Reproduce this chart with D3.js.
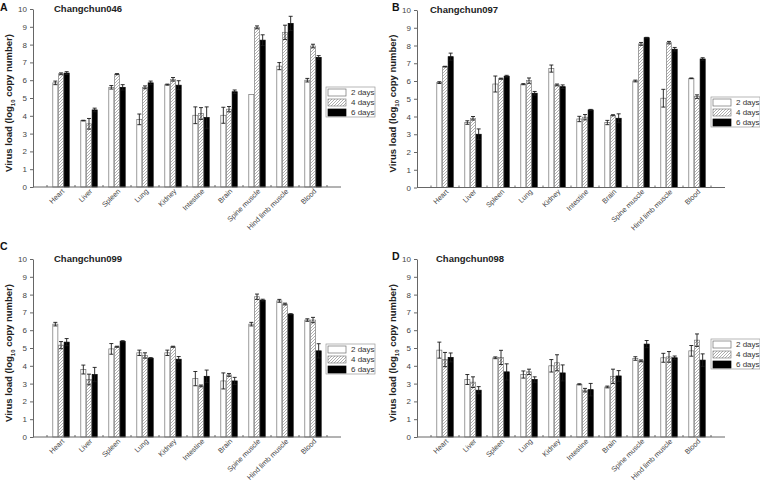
<!DOCTYPE html>
<html><head><meta charset="utf-8">
<script src="https://cdn.jsdelivr.net/npm/d3@7"></script>
<style>body{margin:0;background:#fff}svg{display:block}text{font-family:"Liberation Sans",Arial,sans-serif}</style>
</head><body>
<script>
const categories = ["Heart","Liver","Spleen","Lung","Kidney","Intestine","Brain","Spine muscle","Hind limb muscle","Blood"];
const seriesLabels = ["2 days","4 days","6 days"];
const yTickValues = [0,1,2,3,4,5,6,7,8,9,10];
const panelLetters = ["A","B","C","D"];
const strainNames = ["Changchun046","Changchun097","Changchun099","Changchun098"];

// Changchun046
const c046_2d = [5.85,3.73,5.6,3.8,5.75,4.03,4.03,5.2,6.79,6.0];
const c046_2d_err = [0.1,0.02,0.1,0.3,0.03,0.47,0.45,0,0.2,0.1];
const c046_4d = [6.36,3.55,6.34,5.6,6.05,4.13,4.37,8.97,8.69,7.92];
const c046_4d_err = [0.05,0.3,0.03,0.08,0.1,0.33,0.15,0.08,0.4,0.1];
const c046_6d = [6.4,4.33,5.6,5.85,5.72,3.9,5.35,8.25,9.19,7.28];
const c046_6d_err = [0.08,0.1,0.15,0.1,0.25,0.6,0.1,0.3,0.4,0.1];
// Changchun097
const c097_2d = [5.91,3.66,5.83,5.82,6.7,3.86,3.66,6.0,5.03,6.15];
const c097_2d_err = [0.05,0.1,0.45,0.03,0.2,0.15,0.12,0.05,0.5,0.02];
const c097_4d = [6.81,3.9,6.13,6.02,5.78,3.96,4.07,8.09,8.16,5.12];
const c097_4d_err = [0.02,0.1,0.03,0.15,0.05,0.15,0.03,0.08,0.07,0.1];
const c097_6d = [7.37,3.0,6.27,5.31,5.68,4.37,3.9,8.44,7.79,7.24];
const c097_6d_err = [0.2,0.3,0.05,0.1,0.1,0.03,0.25,0.02,0.1,0.07];
// Changchun099
const c099_2d = [6.34,3.79,4.95,4.73,4.73,3.28,3.15,6.34,7.65,6.57];
const c099_2d_err = [0.1,0.25,0.3,0.15,0.15,0.4,0.45,0.1,0.08,0.07];
const c099_4d = [5.16,3.23,5.07,4.58,5.07,2.87,3.49,7.88,7.47,6.57];
const c099_4d_err = [0.2,0.3,0.03,0.15,0.03,0.05,0.08,0.15,0.05,0.15];
const c099_6d = [5.33,3.51,5.38,4.43,4.37,3.41,3.15,7.69,6.9,4.84];
const c099_6d_err = [0.2,0.4,0.03,0.03,0.15,0.35,0.2,0.05,0.03,0.4];
// Changchun098
const c098_2d = [4.88,3.23,4.45,3.51,4.0,2.96,2.81,4.41,4.45,4.84];
const c098_2d_err = [0.45,0.28,0.05,0.2,0.35,0.03,0.05,0.1,0.25,0.3];
const c098_4d = [4.35,3.08,4.47,3.66,4.17,2.63,3.41,4.28,4.5,5.44];
const c098_4d_err = [0.4,0.3,0.4,0.15,0.45,0.1,0.4,0.05,0.3,0.35];
const c098_6d = [4.47,2.63,3.66,3.23,3.6,2.66,3.43,5.22,4.45,4.32];
const c098_6d_err = [0.25,0.2,0.45,0.15,0.45,0.35,0.3,0.2,0.1,0.35];

const panelMeans = [[c046_2d,c046_4d,c046_6d],[c097_2d,c097_4d,c097_6d],[c099_2d,c099_4d,c099_6d],[c098_2d,c098_4d,c098_6d]];
const panelErrs = [[c046_2d_err,c046_4d_err,c046_6d_err],[c097_2d_err,c097_4d_err,c097_6d_err],[c099_2d_err,c099_4d_err,c099_6d_err],[c098_2d_err,c098_4d_err,c098_6d_err]];

const layout = [
  {ax:33, y0:187, y10:9, titleX:54, letterX:0, letterY:11, legX:326, legY:87},
  {ax:417, y0:187.5, y10:10, titleX:430, letterX:392, letterY:11, legX:711, legY:97},
  {ax:33, y0:437, y10:259, titleX:54, letterX:0, letterY:250, legX:326, legY:344},
  {ax:417, y0:437, y10:259, titleX:436, letterX:392, letterY:260, legX:711, legY:339}
];

const fills = ["#ffffff","url(#hatch)","#000000"];
const strokes = ["#707070","#808080","#000000"];

const svg = d3.select("body").append("svg").attr("width",760).attr("height",483);
const pat = svg.append("defs").append("pattern").attr("id","hatch")
  .attr("patternUnits","userSpaceOnUse").attr("width",3).attr("height",3);
pat.append("rect").attr("width",3).attr("height",3).attr("fill","#fff");
pat.append("path").attr("d","M-1,1 L1,-1 M0,3 L3,0 M2,4 L4,2")
  .attr("stroke","#9a9a9a").attr("stroke-width",0.8);

layout.forEach((cfg,p)=>{
  const g = svg.append("g");
  const y = d3.scaleLinear().domain([0,10]).range([cfg.y0,cfg.y10]);
  const x = d3.scaleBand().domain(categories).range([cfg.ax+14,cfg.ax+294]);
  const xs = d3.scaleBand().domain(seriesLabels).range([5.5,22.5]);

  // y axis
  const yAxis = g.append("g").attr("transform",`translate(${cfg.ax},0)`)
    .call(d3.axisLeft(y).tickValues(yTickValues).tickSize(3).tickSizeOuter(0).tickPadding(3));
  yAxis.select(".domain").attr("stroke","#666");
  yAxis.selectAll(".tick line").attr("stroke","#666");
  yAxis.selectAll(".tick text").attr("fill","#444").style("font-size","8px").style("font-family","Liberation Sans, Arial, sans-serif");

  // bars
  seriesLabels.forEach((s,si)=>{
    const vals = panelMeans[p][si], errs = panelErrs[p][si];
    g.append("g").selectAll("rect").data(categories).join("rect")
      .attr("x",(c)=>x(c)+xs(s)+0.3)
      .attr("y",(c,i)=>y(vals[i]))
      .attr("width",xs.bandwidth()-0.6)
      .attr("height",(c,i)=>y(0)-y(vals[i]))
      .attr("fill",fills[si]).attr("stroke",strokes[si]).attr("stroke-width",0.7);
    const eg = g.append("g").attr("stroke","#1a1a1a").attr("stroke-width",0.9);
    categories.forEach((c,i)=>{
      if(!errs[i]) return;
      const cx = x(c)+xs(s)+xs.bandwidth()/2;
      const t = y(vals[i]+errs[i]), b = y(vals[i]-errs[i]);
      eg.append("line").attr("x1",cx).attr("x2",cx).attr("y1",t).attr("y2",b);
      eg.append("line").attr("x1",cx-2).attr("x2",cx+2).attr("y1",t).attr("y2",t);
      eg.append("line").attr("x1",cx-2).attr("x2",cx+2).attr("y1",b).attr("y2",b);
    });
  });

  // x axis
  g.append("line").attr("x1",cfg.ax).attr("x2",cfg.ax+308).attr("y1",cfg.y0).attr("y2",cfg.y0)
    .attr("stroke","#666").attr("stroke-width",1);
  const bounds = d3.range(categories.length+1).map(k=>x.range()[0]+k*x.step());
  g.append("g").selectAll("line").data(bounds).join("line")
    .attr("x1",d=>d).attr("x2",d=>d).attr("y1",cfg.y0-2).attr("y2",cfg.y0)
    .attr("stroke","#666");
  g.append("g").selectAll("text").data(categories).join("text")
    .attr("transform",c=>`translate(${x(c)+x.bandwidth()/2+2},${cfg.y0+3}) rotate(-45)`)
    .attr("text-anchor","end").attr("dy","0.35em")
    .attr("fill","#444").style("font-size","7.2px").text(c=>c);

  // y label
  const yl = g.append("text").attr("transform",`translate(${cfg.ax-21},${cfg.y0-84}) rotate(-90)`)
    .attr("text-anchor","middle").style("font-size","9.5px").style("font-weight","bold").attr("fill","#222");
  yl.append("tspan").text("Virus load (log");
  yl.append("tspan").attr("baseline-shift","sub").style("font-size","6px").text("10");
  yl.append("tspan").text(" copy number)");

  // title & letter
  g.append("text").attr("x",cfg.titleX).attr("y",cfg.y10+3).style("font-size","9.5px")
    .style("font-weight","bold").attr("fill","#222").text(strainNames[p]);
  g.append("text").attr("x",cfg.letterX).attr("y",cfg.letterY).style("font-size","10.5px")
    .style("font-weight","bold").attr("fill","#111").text(panelLetters[p]);

  // legend
  const lg = g.append("g").attr("transform",`translate(${cfg.legX},${cfg.legY})`);
  lg.append("rect").attr("width",49).attr("height",30).attr("fill","#fff").attr("stroke","#999").attr("stroke-width",0.7);
  seriesLabels.forEach((s,si)=>{
    lg.append("rect").attr("x",2).attr("y",2+si*10).attr("width",18).attr("height",7)
      .attr("fill",fills[si]).attr("stroke",strokes[si]).attr("stroke-width",0.7);
    lg.append("text").attr("x",25).attr("y",5.5+si*10).attr("dy","0.35em")
      .style("font-size","8px").attr("fill","#333").text(s);
  });
});
</script>
</body></html>
